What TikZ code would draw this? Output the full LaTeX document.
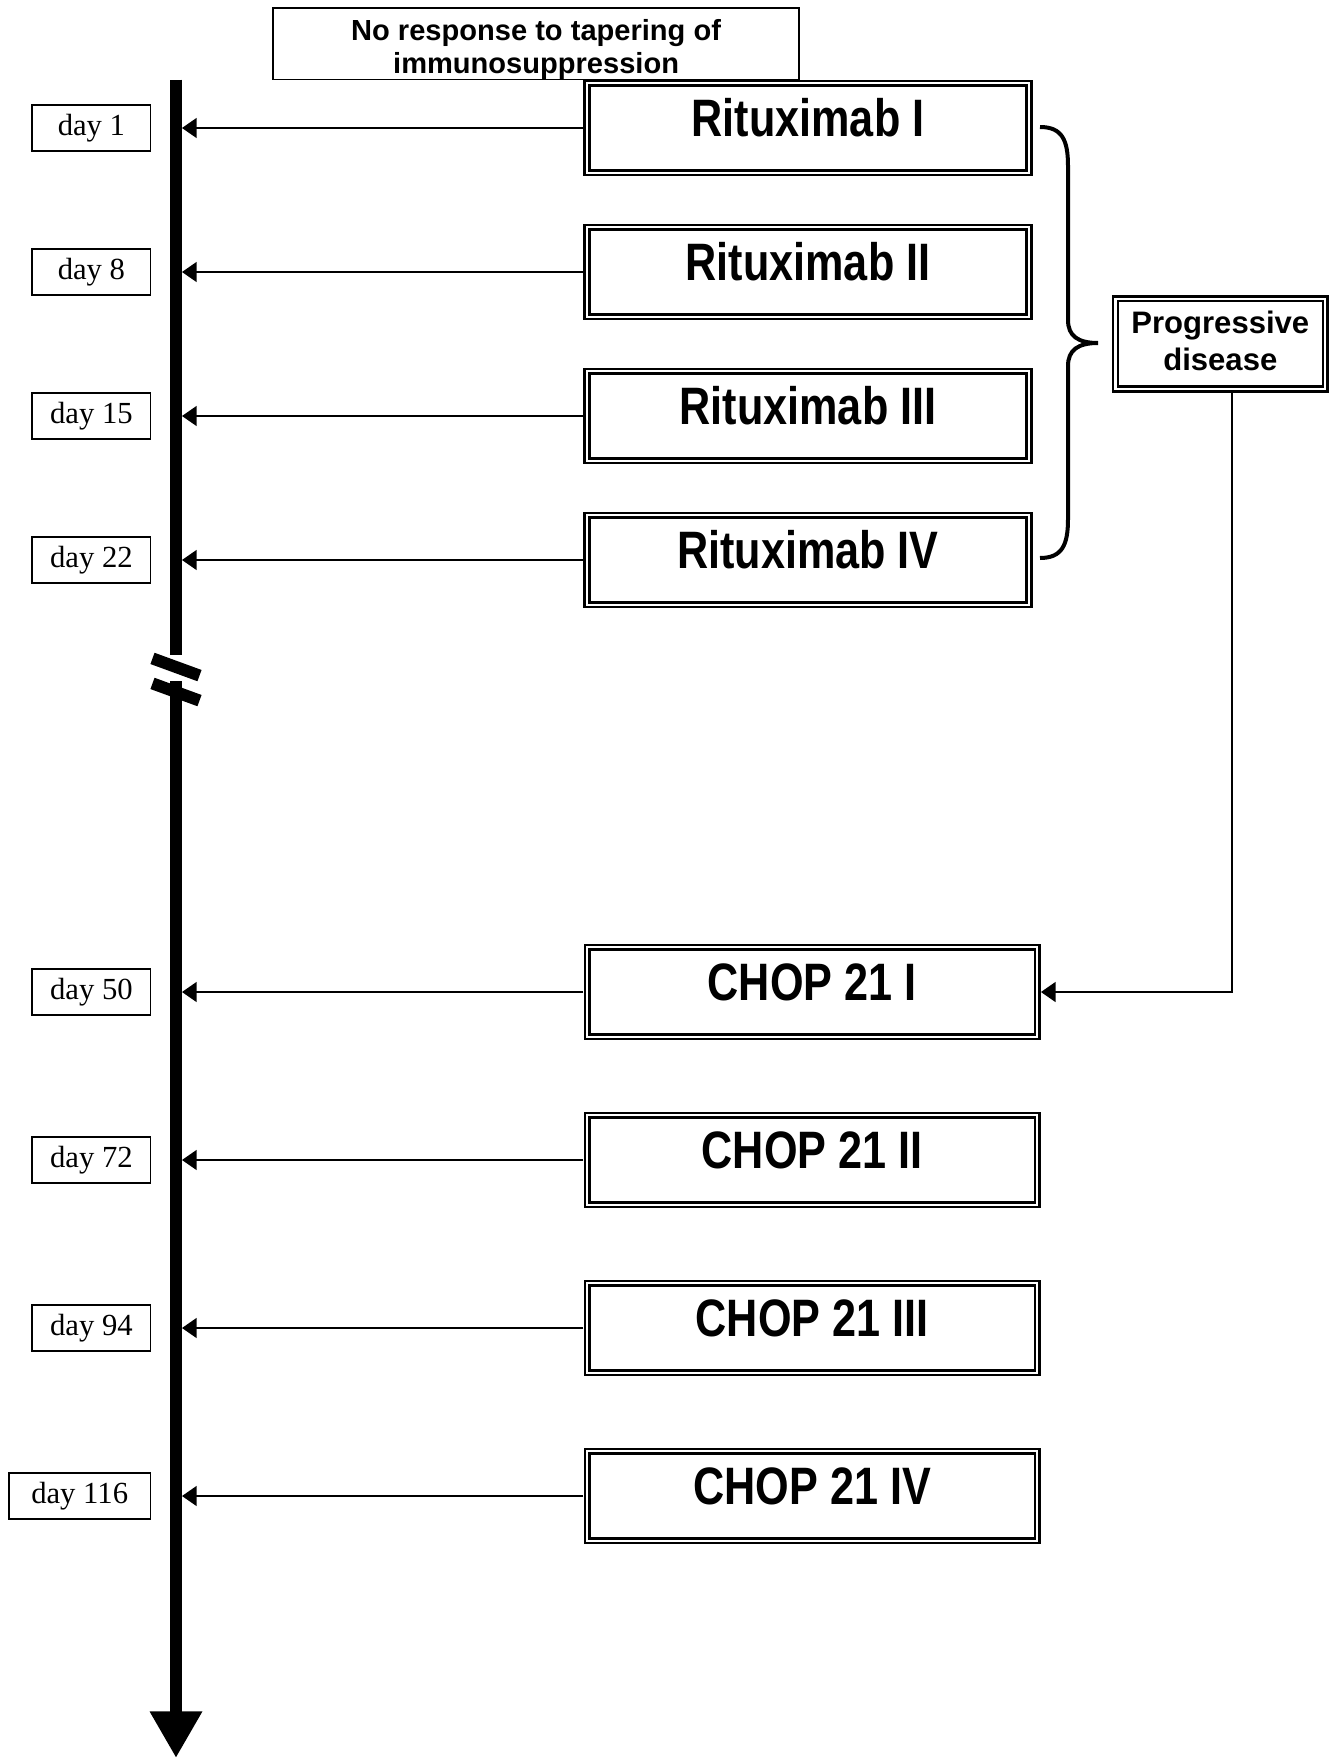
\documentclass[tikz,border=0pt]{standalone}
\usepackage{fontspec}
\setmainfont{Liberation Serif}
\setsansfont{Liberation Sans}
\newfontfamily\narrowsans{Liberation Sans}[FakeStretch=0.82]
\usetikzlibrary{arrows.meta}
\begin{document}
\begin{tikzpicture}[x=0.75pt,y=-0.75pt,
  dbl/.style={draw, line width=1.875pt, double=white, double distance=1.7pt, inner sep=0pt, outer sep=2.8pt},
  dbox/.style={dbl, minimum height=67.2pt, font=\narrowsans\bfseries\fontsize{39.5}{40}\selectfont, text height=12pt, text depth=0pt},
  ritbox/.style={dbox, minimum width=331.5pt},
  chopbox/.style={dbox, minimum width=337.5pt},
  daybox/.style={draw, line width=1.3pt, minimum height=34.7pt, minimum width=88.7pt, inner sep=0pt, font=\fontsize{23}{26}\selectfont},
  topbox/.style={draw, line width=1.1pt, minimum width=394.4pt, minimum height=52.7pt, inner sep=0pt, align=center, font=\sffamily\bfseries\fontsize{21.8}{25}\selectfont},
  pdbox/.style={dbl, minimum width=157.3pt, minimum height=67.7pt, align=center, font=\sffamily\bfseries\fontsize{23.3}{27.5}\selectfont},
  arr/.style={line width=1.1pt, -{Triangle[length=11pt,width=15pt]}},
  bar/.style={line width=9.4pt},
  brk/.style={line width=9pt},
  bracestyle/.style={line width=3pt}
]
\useasboundingbox (0,0) rectangle (1338,1759);

% top box
\node[topbox] (top) at (536.1,43.75) {\rule{0pt}{24.4pt}No response to tapering of\\immunosuppression};

% timeline
\coordinate (t0) at (176,79.6);
\coordinate (t1) at (176,655);
\coordinate (t2) at (176,681);
\coordinate (t3) at (176,1758);
\coordinate (barR) at (182,0);
\draw[bar] (t0) -- (t1);
\draw[bar, -{Triangle[length=35pt,width=37pt]}] (t2) -- (t3);
\draw[brk] (152.5,658.4) -- (199.5,675.6);
\draw[brk] (152.5,683.4) -- (199.5,700.6);

% treatment boxes
\node[ritbox] (r1) at (808,128) {Rituximab I};
\node[ritbox] (r2) at (808,272) {Rituximab II};
\node[ritbox] (r3) at (808,416) {Rituximab III};
\node[ritbox] (r4) at (808,560) {Rituximab IV};
\node[chopbox] (c1) at (812.2,992) {CHOP 21 I};
\node[chopbox] (c2) at (812.2,1160) {CHOP 21 II};
\node[chopbox] (c3) at (812.2,1328) {CHOP 21 III};
\node[chopbox] (c4) at (812.2,1496) {CHOP 21 IV};

% day boxes
\node[daybox] (d1) at (91.4,128) {day 1};
\node[daybox] (d8) at (91.4,272) {day 8};
\node[daybox] (d15) at (91.4,416) {day 15};
\node[daybox] (d22) at (91.4,560) {day 22};
\node[daybox] (d50) at (91.4,992) {day 50};
\node[daybox] (d72) at (91.4,1160) {day 72};
\node[daybox] (d94) at (91.4,1328) {day 94};
\node[daybox, minimum width=106.3pt] (d116) at (79.7,1496) {day 116};

% arrows to timeline
\foreach \n in {r1,r2,r3,r4,c1,c2,c3,c4}
  \draw[arr] (\n.west) -- (\n.west -| barR);

% progressive disease
\node[pdbox] (pd) at (1220.3,343.9) {Progressive\\disease\rule[-5pt]{0pt}{0pt}};
\coordinate (turn) at (1232,992);
\draw[arr] (pd.south -| turn) -- (turn) -- (c1.east);

% brace
\draw[bracestyle] (1040,127) .. controls (1062,127) and (1068,140) .. (1068,166)
  -- (1068,320) .. controls (1068,336) and (1078,343) .. (1098,343)
  .. controls (1078,343) and (1068,350) .. (1068,366)
  -- (1068,519) .. controls (1068,545) and (1062,558) .. (1040,558);
\end{tikzpicture}
\end{document}
